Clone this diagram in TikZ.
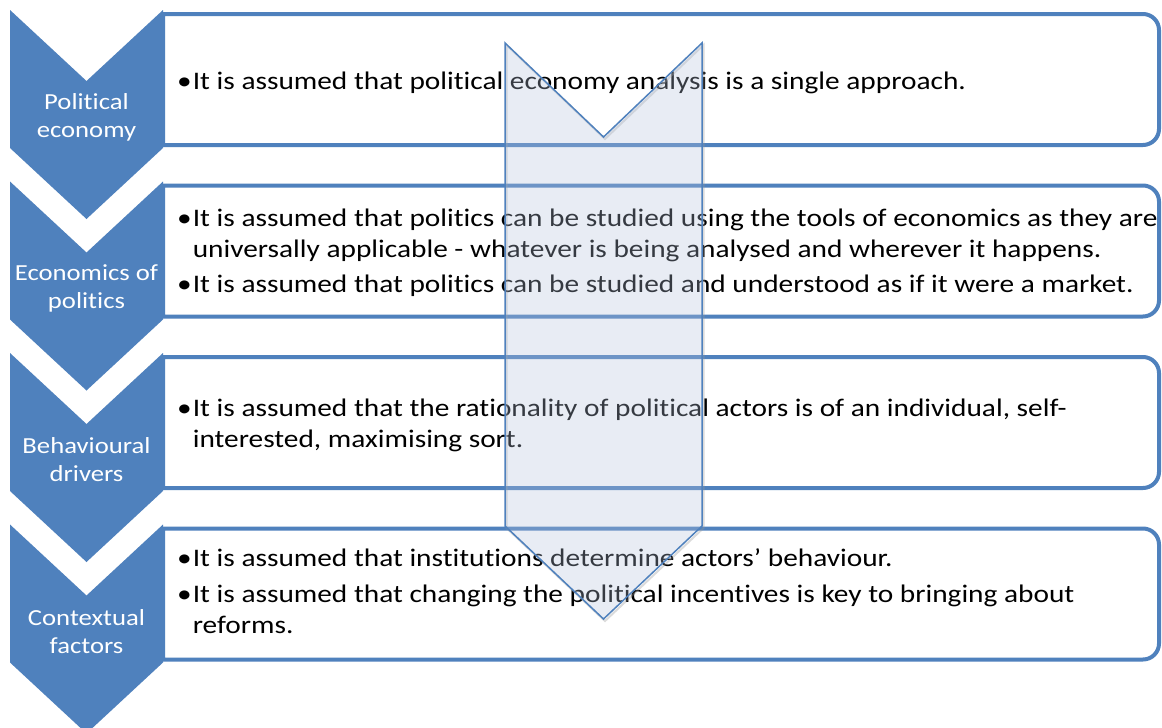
\documentclass[tikz,border=0pt]{standalone}
\usepackage{fontspec}
\setmainfont{Carlito}[FakeStretch=1.16,Ligatures=NoCommon]
\definecolor{accent}{RGB}{79,129,189}
\definecolor{arrowfill}{RGB}{180,195,220}
\begin{document}
\begin{tikzpicture}[x=1pt,y=-1pt,
  chev/.style={fill=accent, draw=none},
  boxline/.style={draw=accent, line width=4pt, fill=white},
  lab/.style={text=white, font=\fontsize{23}{28}\selectfont, align=center, inner sep=0pt},
  item/.style={anchor=base west, inner sep=0pt, font=\fontsize{25.3}{31}\selectfont, text=black},
  bigarrow/.style={draw=accent, line width=1.5pt, fill=arrowfill, fill opacity=0.3, line join=miter},
  arrowshadow/.style={draw=black!40, line width=2pt, opacity=0.35},
]
\useasboundingbox (0,0) rectangle (1162,728);
\fill[white] (0,0) rectangle (1162,728);

% chevrons and boxes
\foreach \t/\n in {10/1,181.5/2,353/3,524.5/4}{
  \fill[chev] (10,\t) -- (86.5,\t+71) -- (163,\t) -- (163,\t+138) -- (86.5,\t+209) -- (10,\t+138) -- cycle;
  \draw[boxline] (163,\t+135) -- (163,\t+4) -- (1143,\t+4)
     .. controls (1151.8,\t+4) and (1159,\t+11.2) .. (1159,\t+20)
     -- (1159,\t+119)
     .. controls (1159,\t+127.8) and (1151.8,\t+135) .. (1143,\t+135)
     -- cycle;
}

% labels
\node[lab] (l1) at (86.5,117) {Political\\economy};
\node[lab] (l2) at (86.5,288.5) {Economics of\\politics};
\node[lab] (l3) at (86.5,460) {Behavioural\\drivers};
\node[lab] (l4) at (86.5,631.5) {Contextual\\factors};

% bullet items
\newcommand{\bitem}[1]{\begin{tabular}[t]{@{}l@{\hspace{1pt}}l@{}}#1\end{tabular}}
\node[item] (b1) at (177,89) {\bitem{•&It is assumed that political economy analysis is a single approach.}};
\node[item] (b2) at (177,226) {\bitem{•&It is assumed that politics can be studied using the tools of economics as they are\\&universally applicable - whatever is being analysed and wherever it happens.}};
\node[item] (b3) at (177,292) {\bitem{•&It is assumed that politics can be studied and understood as if it were a market.}};
\node[item] (b4) at (177,416) {\bitem{•&It is assumed that the rationality of political actors is of an individual, self-\\&interested, maximising sort.}};
\node[item] (b5) at (177,566) {\bitem{•&It is assumed that institutions determine actors’ behaviour.}};
\node[item] (b6) at (177,602) {\bitem{•&It is assumed that changing the political incentives is key to bringing about\\&reforms.}};

% big translucent arrow
\draw[arrowshadow] (506.5,45) -- (605,139) -- (703.5,45) -- (703.5,528) -- (605,621) -- (506.5,528) -- cycle;
\draw[bigarrow] (505,43) -- (603.5,137) -- (702,43) -- (702,526) -- (603.5,619) -- (505,526) -- cycle;
\end{tikzpicture}
\end{document}
